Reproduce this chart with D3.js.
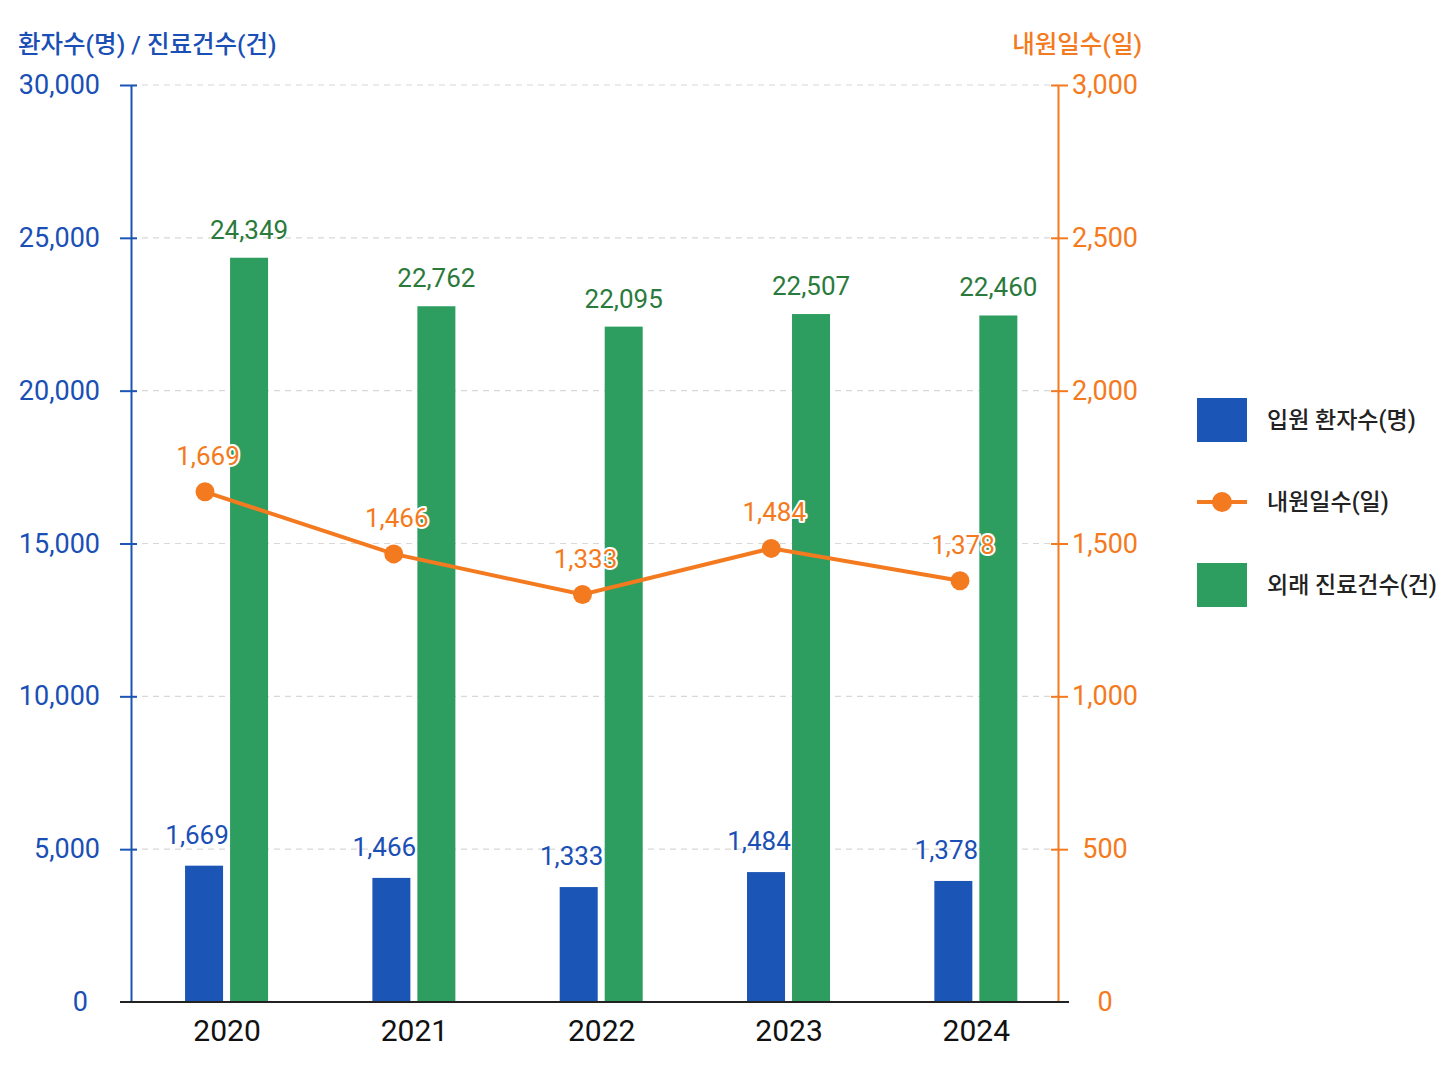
<!DOCTYPE html>
<html>
<head>
<meta charset="utf-8">
<script src="https://cdn.jsdelivr.net/npm/d3@7"></script>
<style>
  body { margin: 0; background: #fff; }
  svg { display: block; font-family: Roboto, 'Noto Sans CJK KR', sans-serif; }
</style>
</head>
<body>
<div id="chart"></div>
<script>
// data
var years = ['2020', '2021', '2022', '2023', '2024'];
var inpatientBars = [4460, 4060, 3760, 4250, 3960];      // bar heights as drawn
var inpatientLabels = [1669, 1466, 1333, 1484, 1378];    // numbers printed over the bars
var outpatientCases = [24349, 22762, 22095, 22507, 22460];
var visitDays = [1669, 1466, 1333, 1484, 1378];
var leftTicks = [0, 5000, 10000, 15000, 20000, 25000, 30000];
var rightTicks = [0, 500, 1000, 1500, 2000, 2500, 3000];
var seriesNames = ['입원 환자수(명)', '내원일수(일)', '외래 진료건수(건)'];

var blue = '#1b55b6', blueText = '#1a4fb5',
    green = '#2e9e60', greenText = '#2a7a3c',
    orange = '#f47a20';

var width = 1448, height = 1086;
var axisL = 131, axisR = 1058, plotTop = 85, plotBottom = 1002;

var svg = d3.select('#chart').append('svg')
  .attr('width', width)
  .attr('height', height);

var x = d3.scaleBand().domain(years).range([133.4, 1070]).padding(0);
var xLine = d3.scalePoint().domain(years).range([205, 960]);
var yLeft = d3.scaleLinear().domain([0, 30000]).range([plotBottom, plotTop]);
var yRight = d3.scaleLinear().domain([0, 3000]).range([plotBottom, plotTop]);
var fmt = d3.format(',');

// grid
svg.append('g')
  .selectAll('line')
  .data(leftTicks.filter(function(d) { return d > 0; }))
  .enter().append('line')
  .attr('x1', axisL).attr('x2', axisR)
  .attr('y1', function(d) { return yLeft(d); })
  .attr('y2', function(d) { return yLeft(d); })
  .attr('stroke', '#d8d8d8')
  .attr('stroke-width', 1.2)
  .attr('stroke-dasharray', '6,5');

// bars
var bw = 38;
function cx(d) { return x(d) + x.bandwidth() / 2; }

svg.append('g').selectAll('rect')
  .data(years)
  .enter().append('rect')
  .attr('x', function(d) { return cx(d) - 42; })
  .attr('y', function(d, i) { return yLeft(inpatientBars[i]); })
  .attr('width', bw)
  .attr('height', function(d, i) { return plotBottom - yLeft(inpatientBars[i]); })
  .attr('fill', blue);

svg.append('g').selectAll('rect')
  .data(years)
  .enter().append('rect')
  .attr('x', function(d) { return cx(d) + 3; })
  .attr('y', function(d, i) { return yLeft(outpatientCases[i]); })
  .attr('width', bw)
  .attr('height', function(d, i) { return plotBottom - yLeft(outpatientCases[i]); })
  .attr('fill', green);

// bar labels
svg.append('g').selectAll('text')
  .data(years)
  .enter().append('text')
  .attr('x', function(d) { return cx(d) - 30; })
  .attr('y', function(d, i) { return yLeft(inpatientBars[i]) - 22; })
  .attr('text-anchor', 'middle')
  .style('font-size', '26px')
  .attr('fill', blueText)
  .text(function(d, i) { return fmt(inpatientLabels[i]); });

svg.append('g').selectAll('text')
  .data(years)
  .enter().append('text')
  .attr('x', function(d) { return cx(d) + 22; })
  .attr('y', function(d, i) { return yLeft(outpatientCases[i]) - 19; })
  .attr('text-anchor', 'middle')
  .style('font-size', '26px')
  .attr('fill', greenText)
  .text(function(d, i) { return fmt(outpatientCases[i]); });

// left axis
var gl = svg.append('g')
  .attr('transform', 'translate(' + axisL + ',0)')
  .call(d3.axisLeft(yLeft).tickValues(leftTicks).tickFormat(fmt)
    .tickSize(11).tickSizeOuter(0).tickPadding(20));
gl.attr('font-family', null).attr('font-size', null);
gl.select('.domain').attr('stroke', blue).attr('stroke-width', 2);
gl.selectAll('.tick line').attr('x1', 6).attr('stroke', blue).attr('stroke-width', 2);
gl.selectAll('.tick').filter(function(d) { return d === 0; }).select('line').remove();
gl.selectAll('.tick text')
  .attr('fill', blueText)
  .style('font-size', '27px');
gl.selectAll('.tick').filter(function(d) { return d === 0; }).select('text')
  .attr('x', -43);

// right axis
var gr = svg.append('g')
  .attr('transform', 'translate(' + axisR + ',0)')
  .call(d3.axisRight(yRight).tickValues(rightTicks).tickFormat(fmt)
    .tickSize(10).tickSizeOuter(0).tickPadding(0));
gr.attr('font-family', null).attr('font-size', null);
gr.select('.domain').attr('stroke', orange).attr('stroke-width', 2);
gr.selectAll('.tick line').attr('x1', -7).attr('stroke', orange).attr('stroke-width', 2);
gr.selectAll('.tick').filter(function(d) { return d === 0; }).select('line').remove();
gr.selectAll('.tick text')
  .attr('x', 47)
  .attr('text-anchor', 'middle')
  .attr('fill', orange)
  .style('font-size', '27px');

// baseline + x axis
var gx = svg.append('g')
  .attr('transform', 'translate(0,' + plotBottom + ')')
  .call(d3.axisBottom(x).tickSize(0).tickPadding(18));
gx.attr('font-family', null).attr('font-size', null);
gx.select('.domain').remove();
gx.append('line')
  .attr('x1', 120).attr('x2', 1069)
  .attr('stroke', '#222').attr('stroke-width', 2);
gx.selectAll('.tick text')
  .attr('fill', '#111')
  .style('font-size', '30px');

// axis titles
svg.append('text')
  .attr('x', 18).attr('y', 53)
  .attr('fill', blueText)
  .style('font-size', '24.5px')
  .style('font-weight', 500)
  .text('환자수(명) / 진료건수(건)');

svg.append('text')
  .attr('x', 1142).attr('y', 53)
  .attr('text-anchor', 'end')
  .attr('fill', orange)
  .style('font-size', '24.5px')
  .style('font-weight', 500)
  .text('내원일수(일)');

// line
var line = d3.line()
  .x(function(d, i) { return xLine(years[i]); })
  .y(function(d) { return yRight(d); });

svg.append('path')
  .datum(visitDays)
  .attr('d', line)
  .attr('fill', 'none')
  .attr('stroke', orange)
  .attr('stroke-width', 4);

svg.append('g').selectAll('circle')
  .data(visitDays)
  .enter().append('circle')
  .attr('cx', function(d, i) { return xLine(years[i]); })
  .attr('cy', function(d) { return yRight(d); })
  .attr('r', 9.5)
  .attr('fill', orange);

svg.append('g').selectAll('text')
  .data(visitDays)
  .enter().append('text')
  .attr('x', function(d, i) { return xLine(years[i]) + 3; })
  .attr('y', function(d) { return yRight(d) - 27; })
  .attr('text-anchor', 'middle')
  .style('font-size', '26px')
  .attr('fill', orange)
  .attr('stroke', '#fff')
  .attr('stroke-width', 4)
  .attr('stroke-linejoin', 'round')
  .attr('paint-order', 'stroke')
  .text(function(d) { return fmt(d); });

// legend
var legend = svg.append('g').attr('transform', 'translate(1197,0)');
var rows = [420, 502, 585];

legend.append('rect').attr('x', 0).attr('y', rows[0] - 22)
  .attr('width', 50).attr('height', 44).attr('fill', blue);
legend.append('line').attr('x1', 0).attr('x2', 50)
  .attr('y1', rows[1]).attr('y2', rows[1])
  .attr('stroke', orange).attr('stroke-width', 4);
legend.append('circle').attr('cx', 25).attr('cy', rows[1]).attr('r', 10).attr('fill', orange);
legend.append('rect').attr('x', 0).attr('y', rows[2] - 22)
  .attr('width', 50).attr('height', 44).attr('fill', green);

legend.selectAll('text.lbl')
  .data(seriesNames)
  .enter().append('text')
  .attr('class', 'lbl')
  .attr('x', 70)
  .attr('y', function(d, i) { return rows[i]; })
  .attr('dy', '0.36em')
  .attr('fill', '#222')
  .style('font-size', '23px')
  .style('font-weight', 500)
  .text(function(d) { return d; });
</script>
</body>
</html>
